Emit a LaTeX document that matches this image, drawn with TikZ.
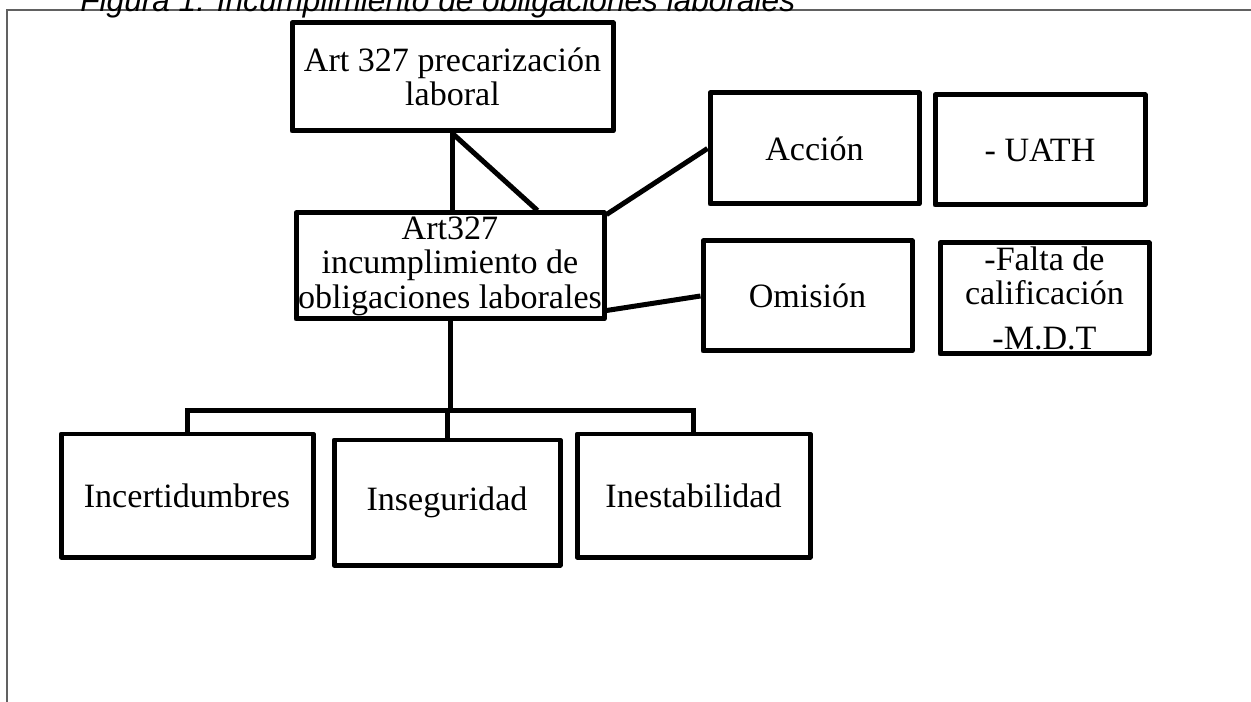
\documentclass[tikz,border=0pt]{standalone}
\usepackage{fontspec}
\setmainfont{Liberation Serif}
\newfontfamily\titlefont{Liberation Sans}
\usetikzlibrary{calc}
\begin{document}
\begin{tikzpicture}[x=0.02cm, y=-0.02cm,
  box/.style={draw, line width=0.1cm, line join=round, inner sep=0pt, align=center,
              font=\fontsize{19.4}{19.6}\selectfont},
  sz/.style 2 args={minimum width=#1*0.02cm, minimum height=#2*0.02cm},
  link/.style={line width=0.1cm},
  frameline/.style={draw=black!62, line width=0.025cm}]
\useasboundingbox (0,0) rectangle (1251,702);
% frame
\draw[frameline] (1251,10) -- (7,10) -- (7,702);
% title
\node[anchor=base west, inner sep=0pt, font=\titlefont\itshape\fontsize{18}{20}\selectfont] (title) at (80,11.5) {Figura 1. Incumplimiento de obligaciones laborales};
% boxes
\node[box, sz={321}{108}] (A) at (452.5,77) {Art 327 precarización\\laboral};
\node[box, sz={308}{106}] (B) at (450,266) {Art327\\incumplimiento de\\obligaciones laborales};
\node[box, sz={209}{111}] (acc) at (814.5,148.5) {Acción};
\node[box, sz={210}{110}] (uath) at (1040,150) {- UATH};
\node[box, sz={209}{110}] (omi) at (807.5,296) {Omisión};
\node[box, sz={209}{111}] (falta) at (1044.5,298.5) {-Falta de\\calificación\\[6pt]-M.D.T};
\node[box, sz={252}{123}] (inc) at (187,495.5) {Incertidumbres};
\node[box, sz={226}{125}] (ins) at (447,502.5) {Inseguridad};
\node[box, sz={233}{123}] (ines) at (693.5,495.5) {Inestabilidad};
% connectors
\coordinate (bar) at (450,411);
\draw[link] (A.south) -- (A.south |- B.north);
\draw[link] (A.south) -- ($(B.north west)+(244,0)$);
\draw[link] ($(B.north east)+(0,4)$) -- (acc.west);
\draw[link] ($(B.south east)+(0,-11)$) -- (omi.west);
\draw[link] (B.south) -- (B.south |- bar);
\draw[link] (inc.north) -- (inc.north |- bar) -- (ines.north |- bar) -- (ines.north);
\draw[link] (ins.north) -- (ins.north |- bar);
\end{tikzpicture}
\end{document}
